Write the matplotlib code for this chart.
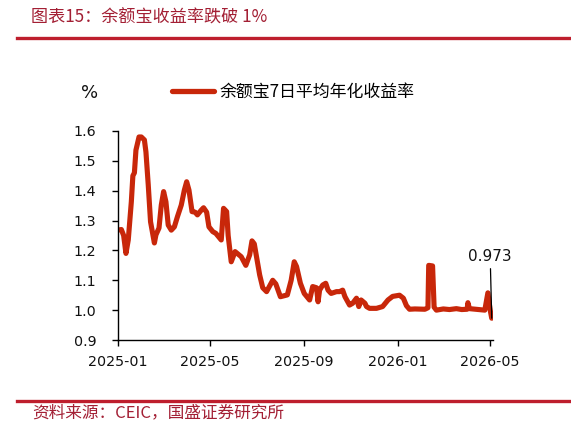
import matplotlib
matplotlib.use("Agg")
import matplotlib.pyplot as plt
import matplotlib.dates as mdates
from matplotlib.lines import Line2D
import pandas as pd

plt.rcParams['font.family'] = ['DejaVu Sans', 'Noto Sans CJK SC']

dates = [
    "2025-01-01", "2025-01-06", "2025-01-09", "2025-01-12", "2025-01-15", "2025-01-19",
    "2025-01-21", "2025-01-23", "2025-01-25", "2025-01-29", "2025-02-01", "2025-02-05",
    "2025-02-07", "2025-02-10", "2025-02-13", "2025-02-18", "2025-02-20", "2025-02-24",
    "2025-02-27", "2025-03-02", "2025-03-05", "2025-03-08", "2025-03-12", "2025-03-16",
    "2025-03-20", "2025-03-25", "2025-03-29", "2025-04-01", "2025-04-04", "2025-04-08",
    "2025-04-12", "2025-04-15", "2025-04-20", "2025-04-23", "2025-04-27", "2025-04-30",
    "2025-05-05", "2025-05-09", "2025-05-16", "2025-05-19", "2025-05-23", "2025-05-25",
    "2025-05-29", "2025-06-03", "2025-06-11", "2025-06-17", "2025-06-22", "2025-06-25",
    "2025-06-28", "2025-07-05", "2025-07-09", "2025-07-14", "2025-07-22", "2025-07-26",
    "2025-08-01", "2025-08-10", "2025-08-15", "2025-08-19", "2025-08-22", "2025-08-27",
    "2025-09-01", "2025-09-08", "2025-09-12", "2025-09-17", "2025-09-19", "2025-09-21",
    "2025-09-25", "2025-09-29", "2025-10-02", "2025-10-06", "2025-10-13", "2025-10-17",
    "2025-10-21", "2025-10-24", "2025-10-30", "2025-11-03", "2025-11-08", "2025-11-11",
    "2025-11-14", "2025-11-19", "2025-11-21", "2025-11-25", "2025-12-04", "2025-12-12",
    "2025-12-19", "2025-12-25", "2026-01-03", "2026-01-08", "2026-01-12", "2026-01-16",
    "2026-01-23", "2026-02-05", "2026-02-09", "2026-02-10", "2026-02-15", "2026-02-17",
    "2026-02-20", "2026-03-01", "2026-03-09", "2026-03-18", "2026-03-25", "2026-04-01",
    "2026-04-02", "2026-04-04", "2026-04-12", "2026-04-24", "2026-04-28", "2026-05-01",
    "2026-05-03",
]
yield_7d = [
    1.268, 1.270, 1.250, 1.190, 1.235, 1.363,
    1.450, 1.460, 1.536, 1.580, 1.580, 1.570,
    1.530, 1.420, 1.296, 1.225, 1.252, 1.275,
    1.352, 1.397, 1.363, 1.285, 1.268, 1.279,
    1.313, 1.352, 1.402, 1.430, 1.402, 1.330,
    1.328, 1.319, 1.335, 1.343, 1.328, 1.279,
    1.263, 1.257, 1.235, 1.341, 1.330, 1.250,
    1.162, 1.196, 1.179, 1.150, 1.185, 1.232,
    1.222, 1.118, 1.075, 1.062, 1.100, 1.088,
    1.045, 1.051, 1.100, 1.162, 1.146, 1.090,
    1.056, 1.034, 1.079, 1.075, 1.028, 1.067,
    1.084, 1.090, 1.067, 1.056, 1.062, 1.062,
    1.067, 1.045, 1.017, 1.023, 1.040, 1.012,
    1.034, 1.023, 1.012, 1.006, 1.006, 1.012,
    1.034, 1.046, 1.050, 1.040, 1.015, 1.003,
    1.004, 1.003, 1.008, 1.150, 1.148, 1.010,
    1.000, 1.004, 1.002, 1.005, 1.002, 1.003,
    1.025, 1.005, 1.003, 1.000, 1.058, 1.000,
    0.973,
]

series_label = "余额宝7日平均年化收益率"
title_text = "图表15：余额宝收益率跌破 1%"
source_text = "资料来源：CEIC，国盛证券研究所"
unit_text = "%"
last_label = "0.973"
x_ticks = ["2025-01-01", "2025-05-01", "2025-09-01", "2026-01-01", "2026-05-01"]
y_ticks = [0.9, 1.0, 1.1, 1.2, 1.3, 1.4, 1.5, 1.6]

W, H = 571, 430
fig = plt.figure(figsize=(W / 100, H / 100), dpi=100)

def fx(px):
    return px / W

def fy(py):
    return 1 - py / H

ax = fig.add_axes([fx(117.5), fy(340), fx(492.5) - fx(117.5), fy(131) - fy(340)])

line_color = "#C8270A"
x = pd.to_datetime(dates)
ax.plot(x, yield_7d, color=line_color, lw=3.7, solid_joinstyle="round",
        solid_capstyle="round", label=series_label)

ax.set_ylim(0.9, 1.6)
ax.set_xlim(pd.Timestamp("2025-01-01"), pd.Timestamp("2026-05-04"))
ax.set_yticks(y_ticks)
ax.set_yticklabels([f"{v:.1f}" for v in y_ticks])
ax.set_xticks(pd.to_datetime(x_ticks))
ax.xaxis.set_major_formatter(mdates.DateFormatter("%Y-%m"))

for s in ["top", "right"]:
    ax.spines[s].set_visible(False)
for s in ["left", "bottom"]:
    ax.spines[s].set_linewidth(1.0)
    ax.spines[s].set_color("black")
ax.tick_params(axis="y", direction="out", length=4.3, width=1.0, pad=11,
               labelsize=10.3, colors="black")
ax.tick_params(axis="x", direction="out", length=4, width=1.0, pad=7,
               labelsize=10.3, colors="black")
for lbl in ax.get_xticklabels() + ax.get_yticklabels():
    lbl.set_color("#111111")

# annotation for last value
ax.annotate(last_label, xy=(x[-1], yield_7d[-1]),
            xytext=(pd.Timestamp("2026-05-01"), 1.178),
            ha="center", va="center", fontsize=11, color="#111111",
            arrowprops=dict(arrowstyle="-", color="black", lw=0.9,
                            shrinkA=1, shrinkB=0))

# legend
handle = Line2D([], [], color=line_color, lw=3.8, solid_capstyle="round")
fig.legend([handle], [series_label], loc="center left",
           bbox_to_anchor=(fx(172), fy(92)), frameon=False,
           handlelength=2.5, handletextpad=0.3, borderpad=0, borderaxespad=0,
           prop={"family": ["Noto Sans CJK SC"], "size": 12.2})

fig.text(fx(90), fy(93), unit_text, ha="center", va="center", fontsize=13,
         color="#111111")

# title and source with red rules
title_color = "#A31F34"
rule_color = "#BE1E2D"
fig.text(fx(31), fy(18), title_text, ha="left", va="center", fontsize=12.3,
         color=title_color, family=["Noto Sans CJK SC", "DejaVu Sans"])
fig.add_artist(Line2D([fx(17), fx(571)], [fy(37.5), fy(37.5)], color=rule_color,
                      lw=2.4, transform=fig.transFigure))
fig.add_artist(Line2D([fx(17), fx(571)], [fy(400.5), fy(400.5)], color=rule_color,
                      lw=2.4, transform=fig.transFigure))
fig.text(fx(32), fy(413), source_text, ha="left", va="center", fontsize=12,
         color=title_color, family=["Noto Sans CJK SC", "DejaVu Sans"])

fig.savefig("out.png", dpi=100)
